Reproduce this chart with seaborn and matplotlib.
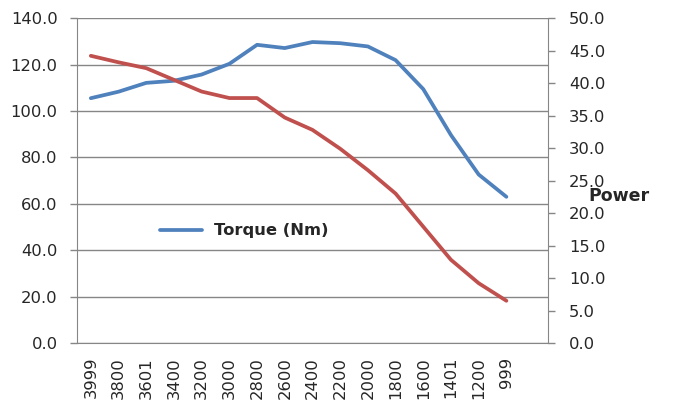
import matplotlib

matplotlib.use("Agg")
import matplotlib.pyplot as plt
import numpy as np
import seaborn as sns

# engine speed categories (last slot is empty in the original chart)
rpm_labels = ["3999", "3800", "3601", "3400", "3200", "3000", "2800", "2600",
              "2400", "2200", "2000", "1800", "1600", "1401", "1200", "999", ""]
torque_nm = [105.5, 108.3, 112.1, 113.0, 115.7, 120.3, 128.5, 127.1,
             129.7, 129.2, 127.8, 121.9, 109.4, 89.6, 72.6, 63.0]
power = [44.2, 43.2, 42.3, 40.5, 38.7, 37.7, 37.7, 34.7,
         32.8, 29.9, 26.6, 23.0, 17.9, 12.8, 9.2, 6.5]

BLUE = "#4F81BD"
RED = "#C0504D"
GREY = "#868686"

sns.set_style("white")
plt.rcParams["font.family"] = ["DejaVu Sans"]
plt.rcParams["font.size"] = 11.8

fig = plt.figure(figsize=(6.8, 4.12), dpi=100)
ax = fig.add_axes([0.1132, 0.1675, 0.6926, 0.7885])
ax2 = ax.twinx()

x_pos = np.arange(len(torque_nm))
sns.lineplot(x=x_pos, y=torque_nm, ax=ax, color=BLUE, linewidth=2.7,
             label="Torque (Nm)", solid_capstyle="round")
sns.lineplot(x=x_pos, y=power, ax=ax2, color=RED, linewidth=2.7,
             legend=False, solid_capstyle="round")

ax.set_xlim(-0.5, len(rpm_labels) - 0.5)
ax.set_ylim(0, 140)
ax2.set_ylim(0, 50)
ax.set_yticks(np.arange(0, 141, 20))
ax.set_yticklabels([f"{v:.1f}" for v in np.arange(0, 141, 20)])
ax2.set_yticks(np.arange(0, 51, 5))
ax2.set_yticklabels([f"{v:.1f}" for v in np.arange(0, 51, 5)])

# ticks between categories, labels at the centres
ax.set_xticks(np.arange(-0.5, len(rpm_labels), 1.0))
ax.set_xticklabels([])
ax.set_xticks(np.arange(len(rpm_labels)), minor=True)
ax.set_xticklabels(rpm_labels, minor=True, rotation=90)
ax.tick_params(axis="x", which="minor", length=0, pad=10, labelsize=11.8)
ax.tick_params(axis="x", which="major", length=5, width=1, color=GREY, direction="out")
ax.tick_params(axis="y", length=5, width=1, color=GREY, direction="out", pad=9,
               left=True, labelsize=11.8)
ax2.tick_params(axis="y", length=5, width=1, color=GREY, direction="out", pad=10,
                right=True, labelsize=11.8)

ax.grid(axis="y", color=GREY, linewidth=1)
ax.grid(axis="x", visible=False)
ax2.grid(False)
ax.set_axisbelow(True)

for name, sp in ax.spines.items():
    sp.set_visible(name in ("left", "bottom"))
    sp.set_color(GREY)
for name, sp in ax2.spines.items():
    sp.set_visible(name == "right")
    sp.set_color(GREY)

ax.set_xlabel("")
ax.set_ylabel("")
ax2.set_ylabel("Power", rotation=0, fontweight="bold", fontsize=12.5,
               ha="left", va="center")
ax2.yaxis.set_label_coords(1.085, 0.452)

ax.legend(loc="center left", bbox_to_anchor=(0.176, 0.345), frameon=False,
          borderpad=0, borderaxespad=0, handlelength=2.6, handletextpad=0.72,
          prop={"weight": "bold", "size": 11.8})

fig.savefig("out.png", dpi=100)
